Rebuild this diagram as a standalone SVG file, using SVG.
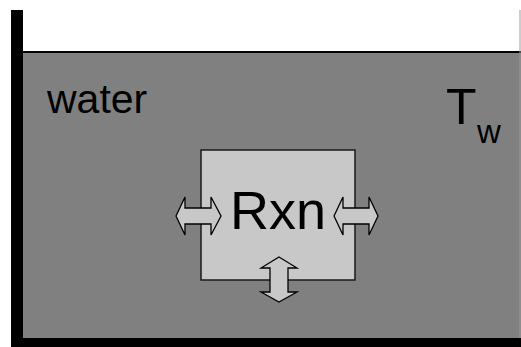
<svg xmlns="http://www.w3.org/2000/svg" width="521" height="347" viewBox="0 0 521 347">
  <style>
    .lbl { font-family: "Liberation Sans", Arial, sans-serif; fill: #000; }
    .arrow { fill: #c8c8c8; stroke: #000; stroke-width: 1.3; stroke-linejoin: miter; }
  </style>
  <rect x="0" y="0" width="521" height="347" fill="#ffffff"/>
  <!-- tank -->
  <g id="tank">
    <rect x="23" y="52" width="498" height="286" fill="#808080"/>
    <line x1="23" y1="52" x2="521" y2="52" stroke="#000" stroke-width="2"/>
    <line x1="520" y1="10" x2="520" y2="338" stroke="#9a9a9a" stroke-width="1"/>
    <rect x="11" y="10" width="12" height="337" fill="#000"/>
    <rect x="11" y="338" width="510" height="9" fill="#000"/>
  </g>
  <g id="water-label">
    <text class="lbl" x="47" y="113" font-size="41">water</text>
  </g>
  <g id="temperature-label">
    <text class="lbl" x="446" y="124" font-size="50">T</text>
    <text class="lbl" x="477" y="143" font-size="33">w</text>
  </g>
  <g id="reactor">
    <rect x="201" y="150" width="154" height="130" fill="#c8c8c8" stroke="#1a1a1a" stroke-width="1.5"/>
    <text class="lbl" x="230" y="229" font-size="54">Rxn</text>
  </g>
  <g id="connectors">
    <!-- left exchange arrow -->
    <polygon class="arrow" points="176,216 185,197 185,208 211,208 211,197 221,216 211,235 211,224 185,224 185,235"/>
    <!-- right exchange arrow -->
    <polygon class="arrow" points="334,216 343,197 343,208 369,208 369,197 378,216 369,235 369,224 343,224 343,235"/>
    <!-- bottom exchange arrow -->
    <polygon class="arrow" points="279,257 297,268 288,268 288,292 297,292 279,302 261,292 270,292 270,268 261,268"/>
  </g>
</svg>
